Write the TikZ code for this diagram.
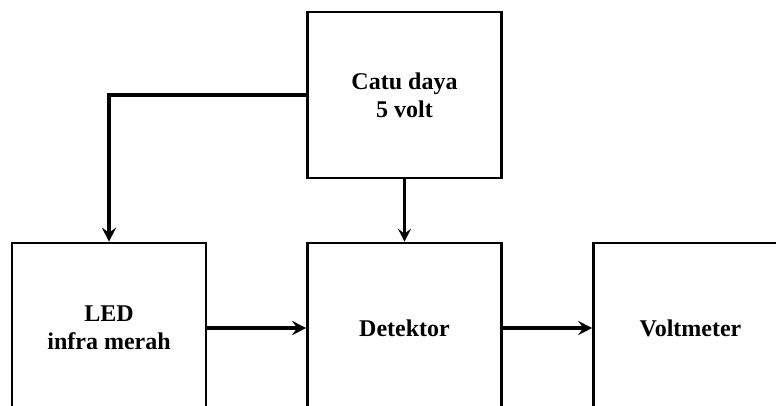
\documentclass[tikz,border=0pt]{standalone}
\usepackage{fontspec}
\setmainfont{Liberation Serif}
\usetikzlibrary{arrows.meta}
\begin{document}
\begin{tikzpicture}[x=1pt,y=-1pt,
  block/.style={draw=black, line width=2.6pt, fill=white, inner sep=0pt,
    minimum width=194pt, align=center,
    font=\fontsize{24}{28}\selectfont\bfseries},
  flow/.style={line width=4pt, -{Stealth[length=14pt,width=14pt,inset=5pt]}},
  feed/.style={line width=2.2pt, -{Stealth[length=13pt,width=13pt,inset=5pt]}}]
  \useasboundingbox (0,0) rectangle (776,405);
  \fill[white] (0,0) rectangle (776,405);
  \clip (0,0) rectangle (776,405);

  % power supply on top
  \node[block, minimum height=166pt] (catu) at (404.5,95) {Catu daya\\5 volt};

  % signal chain along the bottom, running past the lower edge
  \node[block, minimum height=170pt] (led) at (109,328) {LED\\infra merah};
  \node[block, minimum height=170pt] (det) at (404.5,328) {Detektor};
  \node[block, minimum height=170pt] (volt) at (690.5,328) {Voltmeter};

  % supply lines
  \draw[flow] (catu.west) -| (led.north);
  \draw[feed] (catu.south) -- (det.north);

  % signal path
  \draw[flow] (led.east) -- (det.west);
  \draw[flow] (det.east) -- (volt.west);
\end{tikzpicture}
\end{document}
